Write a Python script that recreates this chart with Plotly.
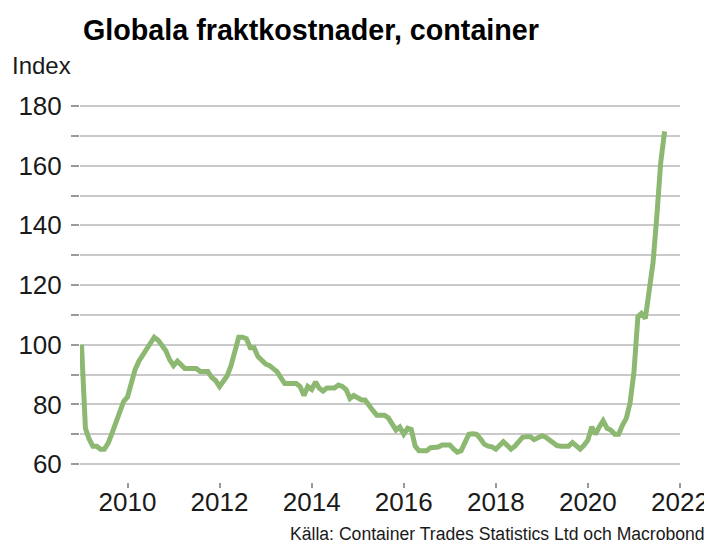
import pandas as pd
import plotly.graph_objects as go

# Monthly index values, Jan 2009 - Sep 2021
values = [
    100, 72, 68.5, 66, 66, 65, 65, 67, 70.5, 74, 78.5, 81,          # 2009
    82.5, 87, 91.5, 94.5, 96.5, 98.5, 100.5, 102.5, 101.5, 100, 98, 95,  # 2010
    93, 94.5, 93, 92, 92, 92, 92, 91, 91, 91, 89, 88,                # 2011
    86, 87.5, 89.5, 93, 98, 102.5, 102.5, 102, 99, 99, 96, 94.5,     # 2012
    93.5, 93, 92, 91, 89, 87, 87, 87, 87, 86, 83, 86,                # 2013
    85, 87.5, 85.5, 84.5, 85.5, 85.5, 85.5, 86.5, 86, 85, 82, 83,    # 2014
    82, 81.5, 81.5, 79.5, 78, 76.4, 76.4, 76.4, 75.5, 73.5, 71.4, 72.4,  # 2015
    70, 72, 71.6, 66, 64.5, 64.5, 64.5, 65.5, 65.5, 65.7, 66.4, 66.4,    # 2016
    66.4, 65, 64, 64.5, 67, 70, 70.2, 70, 68.5, 66.7, 66, 65.8,      # 2017
    65, 66.5, 67.5, 66.3, 65, 66, 67.2, 69, 69.2, 69.2, 68.2, 69,    # 2018
    69.5, 69, 68, 67, 66.2, 66, 66, 66, 67.2, 66.3, 65, 66.3,        # 2019
    68, 72.5, 70, 72.5, 74.5, 72, 71.4, 70, 70, 73, 75.3, 80.5,      # 2020
    91, 109.4, 110.5, 108.8, 117, 127.5, 143, 161, 171.5,            # 2021
]
dates = pd.date_range("2009-01-01", periods=len(values), freq="MS")

title_text = "Globala fraktkostnader, container"
y_label = "Index"
source_text = "Källa: Container Trades Statistics Ltd och Macrobond"
y_tick_vals = [60, 80, 100, 120, 140, 160, 180]
x_tick_years = [2010, 2012, 2014, 2016, 2018, 2020, 2022]

line_color = "#8db872"
grid_color = "#c9c9c9"
font_family = "Liberation Sans, Arial, sans-serif"

fig = go.Figure()
fig.add_trace(go.Scatter(
    x=dates, y=values, mode="lines",
    line=dict(color=line_color, width=5),
    hoverinfo="skip", showlegend=False,
))

fig.update_layout(
    width=704, height=537,
    margin=dict(l=72, r=32, t=95, b=63, autoexpand=False),
    paper_bgcolor="white", plot_bgcolor="white",
    font=dict(family=font_family, color="#1a1a1a"),
    showlegend=False,
)

fig.update_xaxes(
    type="date",
    range=["2008-12-20", "2022-01-01"],
    tickvals=[f"{y}-01-01" for y in x_tick_years],
    ticktext=[str(y) for y in x_tick_years],
    ticks="outside", ticklen=5, tickwidth=1.5, tickcolor="#9a9a9a",
    showgrid=False, showline=False, zeroline=False,
    tickfont=dict(size=26, color="#1a1a1a"),
    ticklabelstandoff=-8,
    automargin=False,
)

fig.update_yaxes(
    range=[54, 181],
    tickvals=y_tick_vals,
    ticks="outside", ticklen=8, tickwidth=1.5, tickcolor="#9a9a9a",
    showgrid=True, gridcolor=grid_color, gridwidth=1.5,
    minor=dict(dtick=10, tick0=60, showgrid=True, gridcolor=grid_color,
               gridwidth=1.5, ticks="outside", ticklen=8, tickwidth=1.5,
               tickcolor="#9a9a9a"),
    showline=False, zeroline=False,
    tickfont=dict(size=26, color="#1a1a1a"),
    ticklabelstandoff=4,
    automargin=False,
)

fig.add_annotation(
    text=f"<b>{title_text}</b>", xref="paper", yref="paper",
    x=0.001, y=1.192, xanchor="left", yanchor="middle", showarrow=False,
    font=dict(size=28.7, color="#000000", family=font_family),
)
fig.add_annotation(
    text=y_label, xref="paper", yref="paper",
    x=-0.116, y=1.098, xanchor="left", yanchor="middle", showarrow=False,
    font=dict(size=24, color="#1a1a1a", family=font_family),
)
fig.add_annotation(
    text=source_text, xref="paper", yref="paper",
    x=1.045, y=-0.137, xanchor="right", yanchor="middle", showarrow=False,
    font=dict(size=17.6, color="#1a1a1a", family=font_family),
)

fig.write_html("out.html")
